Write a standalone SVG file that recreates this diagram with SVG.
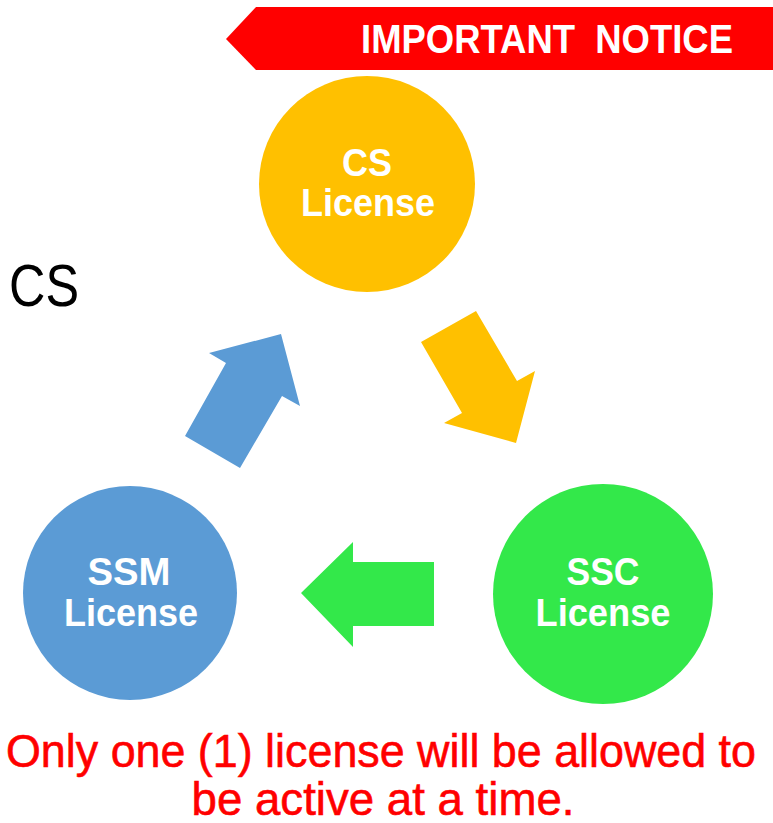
<svg xmlns="http://www.w3.org/2000/svg" width="773" height="823" viewBox="0 0 773 823">
<style>
.lbl{font-family:"Liberation Sans",Arial,sans-serif;font-weight:bold;font-size:38px;fill:#fff;text-anchor:middle}
.red{font-family:"Liberation Sans",Arial,sans-serif;font-size:47px;fill:#f00;stroke:#f00;stroke-width:0.6;text-anchor:middle}
</style>
<rect width="773" height="823" fill="#fff"/>
<g id="banner">
<polygon points="226,39 256,7 773,7 773,70 256,70" fill="#f00"/>
<text x="361" y="53" font-family="'Liberation Sans',Arial,sans-serif" font-weight="bold" font-size="40" fill="#fff" textLength="372" lengthAdjust="spacingAndGlyphs" xml:space="preserve">IMPORTANT  NOTICE</text>
</g>
<g id="cs-label">
<text x="9" y="306" font-family="'Liberation Sans',Arial,sans-serif" font-size="60" fill="#000" textLength="70" lengthAdjust="spacingAndGlyphs">CS</text>
</g>
<g id="connectors">
<polygon points="421,342 476,311 517,381 535,371 516,443 444,423 462,413" fill="#FFC000"/>
<polygon points="301,593 353,542 353,562 434,562 434,626 353,626 353,647" fill="#33E84A"/>
<polygon points="185,436 226,363 209,353 281,334 300,406 282,396 240,468" fill="#5B9BD5"/>
</g>
<g id="node-cs">
<circle cx="367" cy="184" r="108" fill="#FFC000"/>
<text class="lbl" x="367" y="176" textLength="50" lengthAdjust="spacingAndGlyphs">CS</text>
<text class="lbl" x="368" y="216" textLength="134" lengthAdjust="spacingAndGlyphs">License</text>
</g>
<g id="node-ssc">
<circle cx="603" cy="594" r="110" fill="#33E84A"/>
<text class="lbl" x="603" y="585" textLength="73" lengthAdjust="spacingAndGlyphs">SSC</text>
<text class="lbl" x="603" y="626" textLength="135" lengthAdjust="spacingAndGlyphs">License</text>
</g>
<g id="node-ssm">
<circle cx="130" cy="593" r="107" fill="#5B9BD5"/>
<text class="lbl" x="129" y="585" textLength="83" lengthAdjust="spacingAndGlyphs">SSM</text>
<text class="lbl" x="131" y="626" textLength="134" lengthAdjust="spacingAndGlyphs">License</text>
</g>
<g id="note">
<text class="red" x="381" y="767" textLength="750" lengthAdjust="spacingAndGlyphs">Only one (1) license will be allowed to</text>
<text class="red" x="383" y="815" textLength="383" lengthAdjust="spacingAndGlyphs">be active at a time.</text>
</g>
</svg>
